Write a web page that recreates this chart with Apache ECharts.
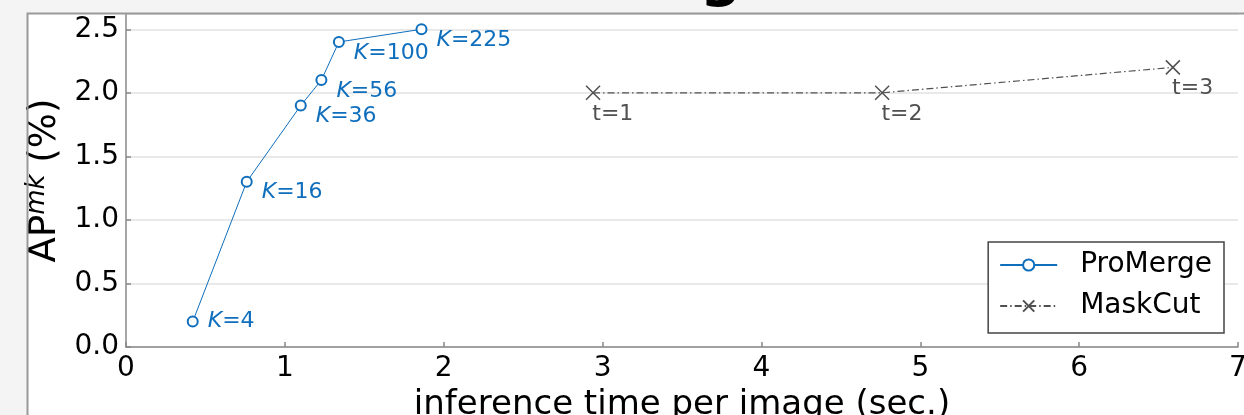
<!DOCTYPE html>
<html><head><meta charset="utf-8">
<script src="https://cdn.jsdelivr.net/npm/echarts@6/dist/echarts.min.js"></script>
<style>html,body{margin:0;padding:0;background:#f4f4f4;}#c{width:1244px;height:415px;}</style>
</head><body><div id="c"></div>
<script>
// ---- data ----
const promergeTime = [0.42, 0.76, 1.10, 1.23, 1.34, 1.86];
const promergeAP   = [0.20, 1.30, 1.90, 2.10, 2.40, 2.50];
const promergeK    = ['4', '16', '36', '56', '100', '225'];
const maskcutTime  = [2.94, 4.76, 6.59];
const maskcutAP    = [2.00, 2.00, 2.20];
const maskcutT     = ['1', '2', '3'];
const xTickValues  = [0, 1, 2, 3, 4, 5, 6, 7];
const yTickValues  = [0.0, 0.5, 1.0, 1.5, 2.0, 2.5];
const seriesNames  = ['ProMerge', 'MaskCut'];
const xTitle = 'inference time per image (sec.)';

const FONT = '"DejaVu Sans", sans-serif';
const BLUE = '#0f6fbd';
const GRAY = '#505050';

const chart = echarts.init(document.getElementById('c'), null, {renderer: 'canvas'});

const promergeData = promergeTime.map((x, i) => ({
  value: [x, promergeAP[i]],
  name: promergeK[i],
  label: {position: [21, i === 0 ? 6 : 17]}
}));
const maskcutData = maskcutTime.map((x, i) => ({
  value: [x, maskcutAP[i]],
  name: maskcutT[i]
}));

chart.setOption({
  backgroundColor: 'transparent',
  animation: false,
  textStyle: {fontFamily: FONT},
  graphic: [
    {type: 'rect', z: -10, silent: true,
     shape: {x: 27.5, y: 13.5, width: 1300, height: 500},
     style: {fill: '#ffffff', stroke: null}},
    {type: 'rect', z: 100, silent: true,
     shape: {x: 27.5, y: 13.5, width: 1300, height: 500},
     style: {fill: null, stroke: '#999999', lineWidth: 2}},
    {type: 'text', z: 100, silent: true, left: 700, top: -49,
     style: {text: 'g', font: 'bold 58px "DejaVu Sans"', fill: '#000'}}
  ],
  grid: {left: 126, right: 6, top: 14, bottom: 68, containLabel: false, outerBoundsMode: 'none'},
  legend: {
    data: seriesNames,
    orient: 'vertical',
    right: 20, top: 242,
    backgroundColor: '#fff',
    borderColor: '#444', borderWidth: 1.5, borderRadius: 0,
    padding: [8, 12, 12, 11],
    itemWidth: 57, itemHeight: 14, itemGap: 11,
    textStyle: {fontSize: 28, color: '#000', fontFamily: FONT, lineHeight: 30, padding: [0, 0, 0, 18]}
  },
  xAxis: {
    type: 'value', min: xTickValues[0], max: xTickValues[xTickValues.length - 1], interval: 1,
    name: xTitle, nameLocation: 'middle', nameGap: 37,
    nameTextStyle: {fontSize: 34, color: '#000', fontFamily: FONT},
    axisLine: {lineStyle: {color: '#888', width: 1.5}},
    axisTick: {inside: true, length: 5, lineStyle: {color: '#888', width: 1.5}},
    axisLabel: {fontSize: 28, color: '#000', margin: 8, fontFamily: FONT,
      formatter: v => xTickValues.includes(v) ? String(v) : ''},
    splitLine: {show: false}
  },
  yAxis: {
    type: 'value', min: 0, max: 2.62, interval: 0.5,
    name: '{a|AP}{s|mk}{a| (%)}', nameLocation: 'middle', nameRotate: 90, nameGap: 48,
    nameTextStyle: {
      color: '#000', fontFamily: FONT,
      rich: {
        a: {fontSize: 37, color: '#000', fontFamily: FONT, lineHeight: 40, verticalAlign: 'bottom'},
        s: {fontSize: 26, color: '#000', fontFamily: FONT, fontStyle: 'italic', verticalAlign: 'bottom', lineHeight: 25, padding: [0, 0, 13, 0]}
      }
    },
    axisLine: {show: true, lineStyle: {color: '#888', width: 1.5}},
    axisTick: {show: true, inside: true, length: 5, lineStyle: {color: '#888', width: 1.5}},
    axisLabel: {fontSize: 28, color: '#000', margin: 7, fontFamily: FONT, showMaxLabel: false,
      formatter: v => yTickValues.some(t => Math.abs(t - v) < 1e-9) ? v.toFixed(1) : ''},
    splitLine: {show: true, lineStyle: {color: '#e2e2e2', width: 1.5}}
  },
  series: [
    {
      name: seriesNames[0], type: 'line', data: promergeData,
      symbol: 'emptyCircle', symbolSize: 10,
      lineStyle: {color: BLUE, width: 1},
      itemStyle: {color: BLUE, borderColor: BLUE, borderWidth: 1.5},
      label: {
        show: true, color: BLUE, fontSize: 22, fontFamily: FONT,
        align: 'left', verticalAlign: 'middle',
        formatter: p => '{i|K}=' + p.name,
        rich: {i: {fontStyle: 'italic', fontSize: 22, color: BLUE, fontFamily: FONT}}
      },
      z: 3
    },
    {
      name: seriesNames[1], type: 'line', data: maskcutData,
      symbol: 'path://M0,0L10,10M0,10L10,0', symbolSize: 14,
      lineStyle: {color: GRAY, width: 1.2, type: [7, 3, 1.5, 3]},
      itemStyle: {color: GRAY, borderColor: GRAY, borderWidth: 1.5},
      label: {
        show: true, color: GRAY, fontSize: 22, fontFamily: FONT,
        position: [7, 18], align: 'left', verticalAlign: 'top',
        formatter: p => 't=' + p.name
      },
      z: 2
    }
  ]
});
</script>
</body></html>
